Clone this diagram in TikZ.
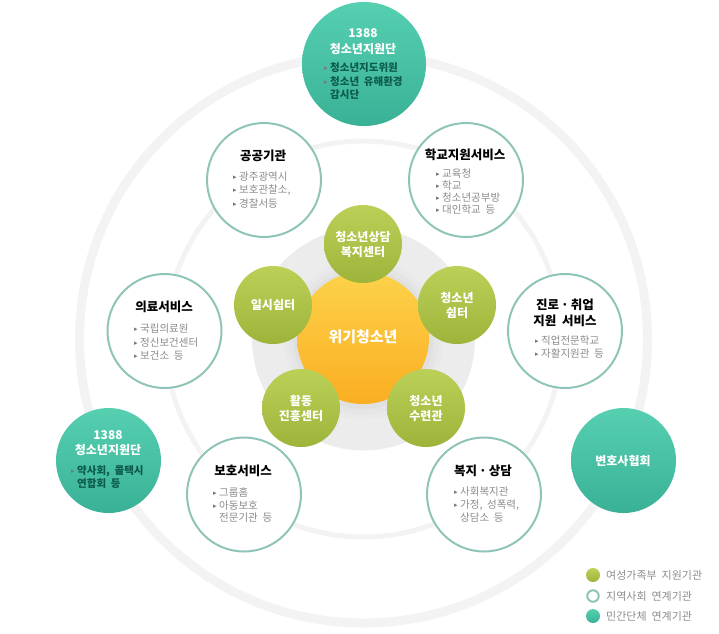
\documentclass[tikz,border=0pt]{standalone}
\usepackage{fontspec}
\setmainfont[WordSpace=2]{Noto Sans CJK KR}
\newfontfamily\symfont{DejaVu Sans}
\definecolor{ringc}{HTML}{F3F3F3}
\definecolor{discc}{HTML}{ECECEC}
\definecolor{edgec}{HTML}{8FC4B8}
\definecolor{greentop}{HTML}{BBD056}
\definecolor{greenbot}{HTML}{9DB43B}
\definecolor{oratop}{HTML}{FCD24A}
\definecolor{orabot}{HTML}{FBAE22}
\definecolor{tealtop}{HTML}{56D0B1}
\definecolor{tealbot}{HTML}{39B196}
\definecolor{darkteal}{HTML}{0C5A49}
\definecolor{greytxt}{HTML}{8C8C8C}
\definecolor{bulc}{HTML}{777777}
\pgfdeclareradialshading{whiteball}{\pgfpoint{-3bp}{3bp}}{color(0bp)=(white);color(44bp)=(white);color(50bp)=(black!8);color(60bp)=(black!8)}
\newcommand{\fs}[1]{\fontsize{#1}{#1}\selectfont}
\newcommand{\bul}{\llap{\raisebox{1pt}{\fontsize{7}{7}\symfont\color{bulc}▸}\hspace{2.5pt}}}
\tikzset{
 x=1pt,y=-1pt,
 ball/.style={circle,inner sep=0pt,outer sep=0pt,minimum size=#1},
 greenball/.style={ball=78pt,top color=greentop,bottom color=greenbot},
 tealball/.style={ball=#1,top color=tealtop,bottom color=tealbot},
 whiteb/.style={ball=114pt,draw=edgec,line width=2pt,shading=whiteball},
 ringline/.style={draw=ringc},
 ttl/.style={inner sep=0pt,font=\fs{12.5}\bfseries,text=black},
 itm/.style={inner sep=0pt,anchor=west,font=\fs{10.5},text=greytxt},
 wht/.style={inner sep=0pt,font=\fs{12}\bfseries,text=white},
 dkt/.style={inner sep=0pt,anchor=west,font=\fs{10.5}\bfseries,text=darkteal},
 leg/.style={inner sep=0pt,anchor=west,font=\fs{11},text=greytxt},
}
\begin{document}
\begin{tikzpicture}
\useasboundingbox (0,0) rectangle (719,633);
% rings and central disc
\node[ball=568pt,ringline,line width=9pt] (outerring) at (363.5,339) {};
\node[ball=396pt,ringline,line width=5pt] (innerring) at (363.5,339) {};
\node[ball=223pt,fill=discc] (disc) at (363.5,339) {};
\node[ball=160pt,fill=black!8.5] (halo1) at (363.5,339) {};
\node[ball=150pt,fill=black!10] (halo2) at (363.5,339) {};
\node[ball=140pt,fill=black!12] (halo3) at (363.5,339) {};
\node[ball=132pt,top color=oratop,bottom color=orabot] (core) at (363,338) {};
\node[wht,font=\fs{15}\bfseries] (coret) at (363,337) {위기청소년};
% green
\node[greenball] (g1) at (363,244) {};
\node[greenball] (g2) at (457,305) {};
\node[greenball] (g3) at (426,408) {};
\node[greenball] (g4) at (301,408) {};
\node[greenball] (g5) at (273,305) {};
\node[wht] (g1a) at (363,237) {청소년상담};
\node[wht] (g1b) at (363,252) {복지센터};
\node[wht] (g2a) at (457,298) {청소년};
\node[wht] (g2b) at (457,313) {쉼터};
\node[wht] (g3a) at (426,401) {청소년};
\node[wht] (g3b) at (426,416) {수련관};
\node[wht] (g4a) at (301,401) {활동};
\node[wht] (g4b) at (301,416) {진흥센터};
\node[wht] (g5a) at (273,305) {일시쉼터};
% white
\node[whiteb] (w1) at (264,180) {};
\node[whiteb] (w2) at (466,180) {};
\node[whiteb] (w3) at (164.5,331) {};
\node[whiteb] (w4) at (565,331) {};
\node[whiteb] (w5) at (244,494.5) {};
\node[whiteb] (w6) at (484,494.5) {};
\node[ttl] (w1t) at (263,156) {공공기관};
\node[itm] (w1a) at (239,177) {\bul 광주광역시};
\node[itm] (w1b) at (239,190) {\bul 보호관찰소,};
\node[itm] (w1c) at (239,204) {\bul 경찰서등};
\node[ttl] (w2t) at (465,155) {학교지원서비스};
\node[itm] (w2a) at (442,174) {\bul 교육청};
\node[itm] (w2b) at (442,186) {\bul 학교};
\node[itm] (w2c) at (442,198) {\bul 청소년공부방};
\node[itm] (w2d) at (442,210) {\bul 대인학교 등};
\node[ttl] (w3t) at (164,307) {의료서비스};
\node[itm] (w3a) at (140,329) {\bul 국립의료원};
\node[itm] (w3b) at (140,343) {\bul 정신보건센터};
\node[itm] (w3c) at (140,356) {\bul 보건소 등};
\node[ttl] (w4t) at (565,305) {진로\,·\,취업};
\node[ttl] (w4u) at (565,321) {지원 서비스};
\node[itm] (w4a) at (541,341) {\bul 직업전문학교};
\node[itm] (w4b) at (541,354) {\bul 자활지원관 등};
\node[ttl] (w5t) at (243,471) {보호서비스};
\node[itm] (w5a) at (219,492) {\bul 그룹홈};
\node[itm] (w5b) at (219,506) {\bul 아동보호};
\node[itm] (w5c) at (219,518) {전문기관 등};
\node[ttl] (w6t) at (483,471) {복지\,·\,상담};
\node[itm] (w6a) at (460,492) {\bul 사회복지관};
\node[itm] (w6b) at (460,505) {\bul 가정, 성폭력,};
\node[itm] (w6c) at (460,518) {상담소 등};
% teal
\node[tealball=124pt] (t1) at (364,64) {};
\node[tealball=105pt] (t2) at (108.5,460.5) {};
\node[tealball=105pt] (t3) at (623.5,460.5) {};
\node[wht] (t1a) at (363,33) {1388};
\node[wht] (t1b) at (363,49) {청소년지원단};
\node[dkt] (t1c) at (330,68) {\bul 청소년지도위원};
\node[dkt] (t1d) at (330,82) {\bul 청소년 유해환경};
\node[dkt] (t1e) at (330,95) {감시단};
\node[wht] (t2a) at (108,435) {1388};
\node[wht] (t2b) at (108,450) {청소년지원단};
\node[dkt] (t2c) at (77,471) {\bul 약사회, 콜택시};
\node[dkt] (t2d) at (77,484) {연합회 등};
\node[wht] (t3a) at (623,461) {변호사협회};
% legend
\node[ball=14pt,top color=greentop,bottom color=greenbot] (l1) at (593,575) {};
\node[ball=11.5pt,draw=edgec,line width=2pt,fill=white] (l2) at (593,596) {};
\node[ball=14pt,top color=tealtop,bottom color=tealbot] (l3) at (593,616) {};
\node[leg] (l1t) at (606,575) {여성가족부 지원기관};
\node[leg] (l2t) at (606,596) {지역사회 연계기관};
\node[leg] (l3t) at (606,616) {민간단체 연계기관};
\end{tikzpicture}
\end{document}
